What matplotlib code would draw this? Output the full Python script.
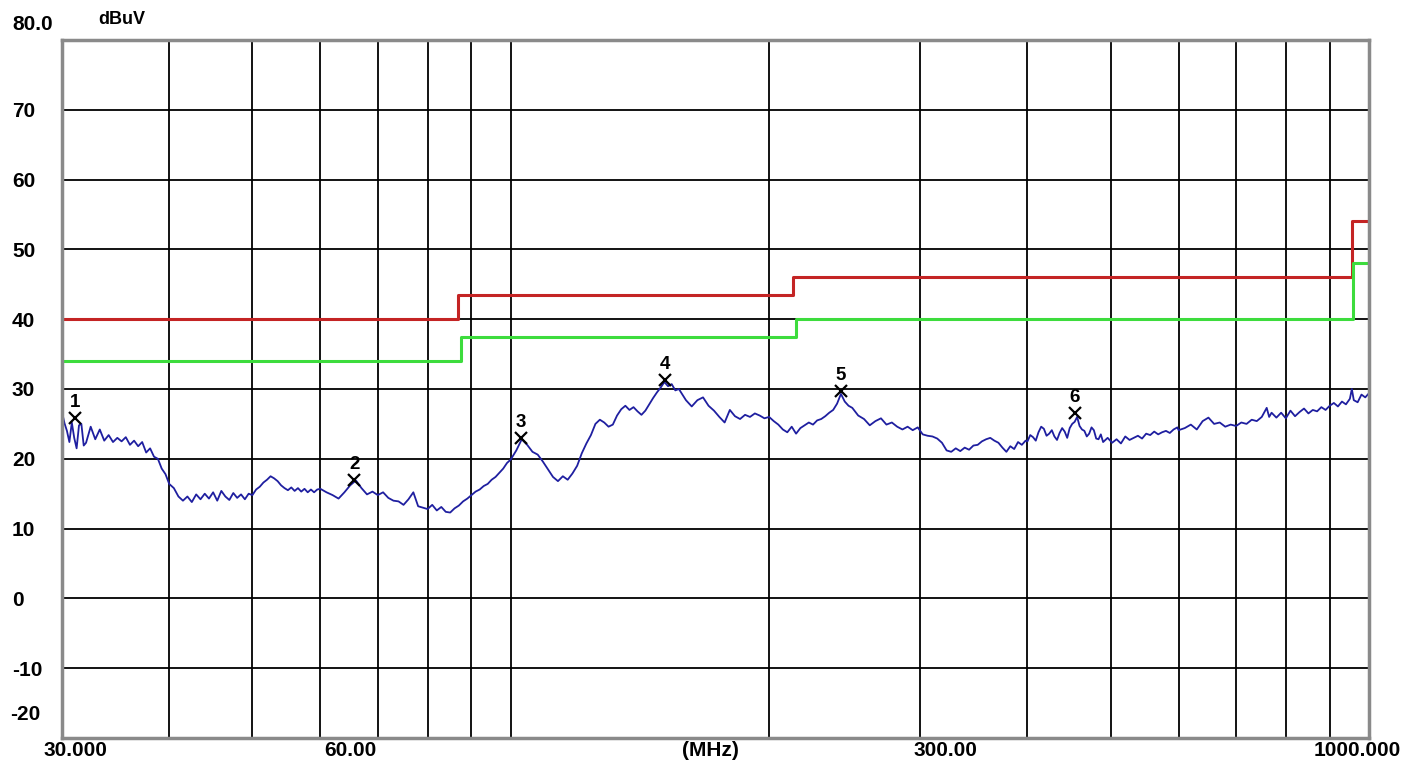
"""
Radiated emission scan, 30 MHz - 1 GHz, with QP / AV limit lines and peak markers.
"""

import matplotlib
matplotlib.use("Agg")
import matplotlib.pyplot as plt
from matplotlib.ticker import NullLocator, FixedLocator

plt.rcParams['font.family'] = ['Liberation Sans', 'DejaVu Sans']

# measured trace (MHz, dBuV)
freq_30_40 = [30.0, 30.2, 30.4, 30.6, 30.8, 31.0, 31.2, 31.4, 31.6, 31.8, 32.0, 32.4, 32.8,
              33.2, 33.6, 34.0, 34.4, 34.8, 35.2, 35.6, 36.0, 36.4, 36.8, 37.2, 37.6, 38.0,
              38.4, 38.8, 39.2, 39.6]
level_30_40 = [26.7, 25.1, 24.0, 22.4, 25.2, 23.0, 21.5, 24.8, 25.0, 21.9, 22.3, 24.6, 22.8,
               24.2, 22.6, 23.4, 22.4, 23.0, 22.5, 23.1, 22.0, 22.6, 21.8, 22.4, 20.9, 21.5,
               20.3, 20.0, 18.6, 17.8]

freq_40_60 = [40.0, 40.5, 41.0, 41.5, 42.0, 42.5, 43.0, 43.5, 44.0, 44.5, 45.0, 45.5, 46.0,
              46.5, 47.0, 47.5, 48.0, 48.5, 49.0, 49.5, 50.0, 50.5, 51.0, 51.5, 52.0, 52.5,
              53.0, 53.5, 54.0, 54.5, 55.0, 55.5, 56.0, 56.5, 57.0, 57.5, 58.0, 58.5, 59.0, 59.5]
level_40_60 = [16.4, 15.8, 14.6, 14.0, 14.6, 13.8, 14.9, 14.2, 15.0, 14.3, 15.2, 14.0, 15.4,
               14.6, 14.1, 15.1, 14.4, 14.9, 14.2, 15.0, 14.8, 15.6, 16.0, 16.6, 17.0, 17.5,
               17.2, 16.8, 16.2, 15.8, 15.5, 15.9, 15.4, 15.8, 15.3, 15.7, 15.2, 15.6, 15.2, 15.6]

freq_60_100 = [60, 61, 62, 63, 64, 65, 66, 67, 68, 69, 70, 71, 72, 73, 74, 75, 76, 77, 78, 79,
               80, 81, 82, 83, 84, 85, 86, 87, 88, 89, 90, 91, 92, 93, 94, 95, 96, 97, 98, 99]
level_60_100 = [15.7, 15.2, 14.8, 14.3, 15.2, 16.2, 16.9, 15.8, 14.9, 15.3, 14.8, 15.2, 14.4,
                14.0, 13.9, 13.4, 14.2, 15.2, 13.2, 13.0, 12.8, 13.4, 12.6, 13.1, 12.4, 12.3,
                12.9, 13.3, 13.9, 14.3, 14.8, 15.3, 15.6, 16.1, 16.4, 17.0, 17.4, 18.0, 18.6, 19.4]

freq_100_160 = [100, 101.5, 103, 104.5, 106, 107.5, 109, 110.5, 112, 113.5, 115, 116.5, 118,
                119.5, 121, 122.5, 124, 125.5, 127, 128.5, 130, 131.5, 133, 134.5, 136, 137.5,
                139, 140.5, 142, 143.5, 145, 146.5, 148, 149.5, 151, 152.5, 154, 155.5, 157, 158.5]
level_100_160 = [19.9, 21.2, 22.8, 22.0, 21.0, 20.6, 19.6, 18.5, 17.4, 16.8, 17.5, 17.0, 17.9,
                 19.0, 20.8, 22.2, 23.4, 25.0, 25.6, 25.2, 24.6, 24.9, 26.2, 27.1, 27.6, 27.0,
                 27.4, 26.8, 26.3, 26.9, 27.8, 28.7, 29.5, 30.2, 31.0, 30.4, 30.7, 29.8, 30.0, 29.2]

freq_160_250 = [160, 162.5, 165, 167.5, 170, 172.5, 175, 177.5, 180, 182.5, 185, 187.5, 190,
                192.5, 195, 197.5, 200, 202.5, 205, 207.5, 210, 212.5, 215, 217.5, 220, 222.5,
                225, 227.5, 230, 232.5, 235, 237.5, 240, 242.5, 245, 247.5]
level_160_250 = [28.4, 27.5, 28.4, 28.8, 27.6, 26.9, 26.0, 25.2, 27.0, 26.1, 25.7, 26.3, 26.0,
                 26.5, 26.2, 25.8, 26.0, 25.4, 24.9, 24.2, 23.8, 24.6, 23.6, 24.4, 24.8, 25.2,
                 24.9, 25.5, 25.7, 26.1, 26.6, 27.0, 27.9, 29.3, 28.2, 27.6]

freq_250_400 = [250, 254, 258, 262, 266, 270, 274, 278, 282, 286, 290, 294, 298, 302, 306, 310,
                314, 318, 322, 326, 330, 334, 338, 342, 346, 350, 354, 358, 362, 366, 370, 374,
                378, 382, 386, 390, 394, 398]
level_250_400 = [27.3, 26.2, 25.7, 24.8, 25.4, 25.8, 24.9, 25.2, 24.6, 24.2, 24.6, 24.1, 24.5,
                 23.5, 23.3, 23.2, 22.9, 22.3, 21.2, 21.0, 21.5, 21.1, 21.6, 21.3, 21.9, 22.0,
                 22.5, 22.8, 23.0, 22.6, 22.3, 21.6, 21.0, 21.8, 21.4, 22.4, 22.0, 22.6]

freq_400_600 = [400, 403, 406, 409, 412, 415, 418, 421, 424, 427, 430, 433, 436, 439, 442, 445,
                448, 451, 454, 457, 460, 463, 466, 469, 472, 475, 478, 481, 484, 487, 490, 496,
                502, 508, 514, 520, 526, 532, 538, 544, 550, 556, 562, 568, 574, 580, 586, 592, 598]
level_400_600 = [22.5, 23.4, 23.1, 22.6, 23.8, 24.6, 24.3, 23.3, 23.6, 24.1, 23.2, 22.7, 23.7,
                 24.4, 23.9, 23.0, 24.4, 25.0, 25.3, 26.0, 24.7, 24.2, 24.0, 23.2, 23.6, 24.5,
                 24.1, 22.9, 22.8, 23.5, 22.4, 23.0, 22.3, 22.8, 22.2, 23.2, 22.7, 23.0, 23.3,
                 22.9, 23.6, 23.4, 23.9, 23.5, 23.8, 24.0, 23.7, 24.2, 24.5]

freq_600_1000 = [600, 610, 620, 630, 640, 650, 660, 670, 680, 690, 700, 710, 720, 730, 740, 750,
                 760, 765, 770, 780, 790, 800, 810, 820, 830, 840, 850, 860, 870, 880, 890, 900,
                 910, 920, 930, 940, 950, 955, 960, 970, 980, 990, 1000]
level_600_1000 = [24.1, 24.4, 24.9, 24.2, 25.4, 25.9, 25.0, 25.2, 24.6, 24.9, 24.7, 25.2, 25.0,
                  25.6, 25.4, 26.0, 27.3, 26.0, 26.6, 25.9, 26.6, 25.8, 26.9, 26.1, 26.7, 27.2,
                  26.5, 27.0, 26.8, 27.4, 27.0, 27.6, 28.0, 27.5, 28.2, 27.8, 28.6, 30.0, 28.4,
                  28.1, 29.2, 28.8, 29.4]

# limit lines (step at each breakpoint)
qp_freq = [30, 86.8, 213, 955, 1000]
qp_level = [40, 43.5, 46, 54, 54]
av_freq = [30, 87.5, 215, 958, 1000]
av_level = [34, 37.5, 40, 48, 48]

# peak markers
marker_id = ['1', '2', '3', '4', '5', '6']
marker_freq = [31.1, 65.7, 102.8, 151.2, 242.5, 454.0]
marker_level = [25.9, 16.9, 23.0, 31.3, 29.7, 26.6]

# axis texts
y_ticks = [-20, -10, 0, 10, 20, 30, 40, 50, 60, 70, 80]
x_grid = [40, 50, 60, 70, 80, 90, 100, 200, 300, 400, 500, 600, 700, 800, 900]
x_labels = ['30.000', '60.00', '(MHz)', '300.00', '1000.000']
x_label_pos = [0.010, 0.2204, 0.4958, 0.6756, 0.9908]

W, H = 1408, 763


def build_trace():
    freqs = (freq_30_40 + freq_40_60 + freq_60_100 + freq_100_160
             + freq_160_250 + freq_250_400 + freq_400_600 + freq_600_1000)
    levels = (level_30_40 + level_40_60 + level_60_100 + level_100_160
              + level_160_250 + level_250_400 + level_400_600 + level_600_1000)
    return freqs, levels


def main():
    fig = plt.figure(figsize=(W / 100, H / 100), dpi=100, facecolor='white')
    ax = fig.add_axes([62 / W, 1 - 738 / H, 1307 / W, 698 / H])

    ax.set_xscale('log')
    ax.set_xlim(30, 1000)
    ax.set_ylim(-20, 80)

    # grid
    ax.xaxis.set_major_locator(FixedLocator(x_grid))
    ax.xaxis.set_minor_locator(NullLocator())
    ax.set_xticklabels([])
    ax.set_yticks(y_ticks)
    ax.grid(True, color='black', linewidth=1.3)
    ax.set_axisbelow(True)
    ax.tick_params(length=0)

    # y labels, left aligned
    ax.set_yticklabels([''] + [str(v) for v in y_ticks[1:-1]] + [''])
    ax.tick_params(axis='y', pad=36, labelsize=15)
    for lab in ax.get_yticklabels():
        lab.set_horizontalalignment('left')
        lab.set_fontweight('bold')

    for sp in ax.spines.values():
        sp.set_color('#8a8a8a')
        sp.set_linewidth(2.5)

    # limits
    ax.plot(qp_freq, qp_level, drawstyle='steps-post', color='#c42424', linewidth=2.2)
    ax.plot(av_freq, av_level, drawstyle='steps-post', color='#3ddc3d', linewidth=2.2)

    # trace
    freqs, levels = build_trace()
    ax.plot(freqs, levels, color='#1f1fa0', linewidth=1.3)

    # markers
    ax.plot(marker_freq, marker_level, linestyle='none', marker='x', color='black',
            markersize=9, markeredgewidth=1.6)
    for mid, mf, ml in zip(marker_id, marker_freq, marker_level):
        ax.annotate(mid, xy=(mf, ml), xytext=(0, 5), textcoords='offset points',
                    ha='center', va='bottom', fontsize=13.5, fontweight='bold')

    # special y labels
    ax.annotate('80.0', xy=(0, 80), xycoords=('axes fraction', 'data'),
                xytext=(-36, 11), textcoords='offset points', ha='left', va='center',
                fontsize=15, fontweight='bold')
    ax.annotate('-20', xy=(0, -20), xycoords=('axes fraction', 'data'),
                xytext=(-37, 17), textcoords='offset points', ha='left', va='center',
                fontsize=15, fontweight='bold')
    ax.annotate('dBuV', xy=(0, 80), xycoords=('axes fraction', 'data'),
                xytext=(26, 15), textcoords='offset points', ha='left', va='center',
                fontsize=13, fontweight='bold')

    # x labels
    for lab, pos in zip(x_labels, x_label_pos):
        ax.text(pos, -0.004, lab, transform=ax.transAxes, ha='center', va='top',
                fontsize=15, fontweight='bold')

    fig.savefig('out.png', dpi=100, facecolor='white')


if __name__ == "__main__":
    main()
